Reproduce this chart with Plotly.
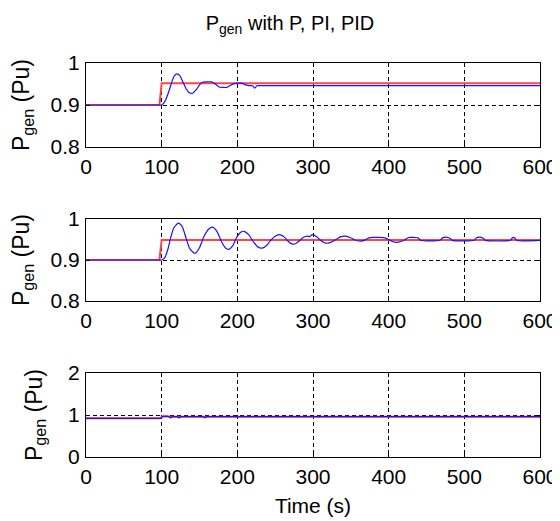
import plotly.graph_objects as go
from plotly.subplots import make_subplots

# ---------------- data ----------------
# Controller P
p_ref_t = [0, 97, 100, 600]
p_ref_v = [0.9, 0.9, 0.952, 0.952]
p_gen_t = [0, 96, 100, 103, 106, 110, 114, 117, 120, 124, 128, 132, 136, 141, 146, 150,
           154, 158, 166, 171, 176, 180, 186, 191, 196, 200, 206, 211, 216, 220, 223, 226,
           232, 600]
p_gen_v = [0.9, 0.9, 0.9, 0.905, 0.915, 0.935, 0.958, 0.970, 0.974, 0.970, 0.955, 0.940,
           0.930, 0.928, 0.937, 0.948, 0.954, 0.955, 0.955, 0.950, 0.943, 0.942, 0.942,
           0.947, 0.951, 0.952, 0.952, 0.948, 0.946, 0.946, 0.940, 0.946, 0.946, 0.946]

# Controller PI
pi_ref_t = [0, 97, 100, 600]
pi_ref_v = [0.9, 0.9, 0.949, 0.949]
pi_gen_t = [0, 96, 100, 104, 108, 112, 116, 122, 127, 132, 137, 144, 150, 156, 162, 167,
            173, 179, 184, 189, 194, 199, 204, 209, 215, 221, 227, 233, 239, 244, 250, 255,
            261, 266, 271, 276, 281, 287, 293, 296, 299, 304, 310, 315, 320, 326, 332, 337,
            343, 349, 354, 359, 364, 369, 374, 380, 388, 395, 400, 405, 411, 416, 422, 426,
            434, 439, 442, 468, 471, 476, 481, 484, 513, 516, 520, 525, 528, 561, 563, 565,
            567, 569, 600]
pi_gen_v = [0.9, 0.9, 0.9, 0.905, 0.925, 0.955, 0.978, 0.990, 0.982, 0.955, 0.928, 0.916,
            0.930, 0.958, 0.975, 0.980, 0.970, 0.945, 0.930, 0.926, 0.935, 0.955, 0.967,
            0.970, 0.962, 0.945, 0.932, 0.929, 0.936, 0.948, 0.958, 0.962, 0.958, 0.948,
            0.940, 0.939, 0.945, 0.955, 0.958, 0.957, 0.962, 0.958, 0.948, 0.942, 0.941,
            0.945, 0.952, 0.957, 0.958, 0.955, 0.950, 0.947, 0.946, 0.949, 0.954, 0.955,
            0.955, 0.954, 0.950, 0.945, 0.943, 0.945, 0.950, 0.955, 0.955, 0.954, 0.948,
            0.948, 0.954, 0.956, 0.953, 0.948, 0.948, 0.954, 0.956, 0.953, 0.948, 0.948,
            0.953, 0.955, 0.953, 0.948, 0.948]

# Controller PID
pid_ref_t = [0, 98, 100, 103, 108, 110, 600]
pid_ref_v = [0.92, 0.92, 0.96, 0.975, 0.975, 0.96, 0.96]
pid_gen_t = [0, 99, 101, 106, 110, 112, 114, 121, 123, 125, 155, 157, 159, 600]
pid_gen_v = [0.92, 0.92, 0.96, 0.96, 0.96, 0.93, 0.96, 0.96, 0.93, 0.96, 0.96,
             0.935, 0.96, 0.96]

x_ticks = [0, 100, 200, 300, 400, 500, 600]
y_ticks_top = [0.8, 0.9, 1.0]
y_tick_text_top = ["0.8", "0.9", "1"]
y_ticks_bottom = [0, 1, 2]

# ---------------- figure ----------------
RED = "rgb(255,70,70)"
BLUE = "rgb(20,20,255)"
FONT = "Liberation Sans, Arial, sans-serif"

fig = make_subplots(rows=3, cols=1)

series = [
    (p_ref_t, p_ref_v, p_gen_t, p_gen_v, "spline"),
    (pi_ref_t, pi_ref_v, pi_gen_t, pi_gen_v, "spline"),
    (pid_ref_t, pid_ref_v, pid_gen_t, pid_gen_v, "linear"),
]
for i, (rt, rv, gt, gv, shp) in enumerate(series, start=1):
    fig.add_trace(go.Scatter(x=rt, y=rv, mode="lines",
                             line=dict(color=RED, width=2),
                             showlegend=False, hoverinfo="skip"), row=i, col=1)
    ln = dict(color=BLUE, width=1.2, shape=shp)
    if shp == "spline":
        ln["smoothing"] = 0.6
    fig.add_trace(go.Scatter(x=gt, y=gv, mode="lines", line=ln,
                             showlegend=False), row=i, col=1)

# page body adds an 8px offset; figure is sized/placed to compensate
OFF = 8
H = 521 - OFF
W = 560 - OFF
ML, MR, MT, MB = 86 - OFF, 20, 63 - OFF, 64
plot_h = H - MT - MB


def dom(top_px, bot_px):
    top_px -= OFF
    bot_px -= OFF
    return [(H - MB - bot_px) / plot_h, (H - MB - top_px) / plot_h]


domains = [dom(63, 147), dom(219, 301), dom(373, 457)]

axis_common = dict(
    showline=True, linecolor="black", linewidth=1, mirror="ticks",
    ticks="inside", ticklen=4, tickcolor="black",
    showgrid=True, gridcolor="black", gridwidth=1, griddash="4px,3px",
    zeroline=False, automargin=False,
    tickfont=dict(family=FONT, size=21, color="black"),
)

ytitle = "P<sub>gen</sub> (Pu)"
for i in range(1, 4):
    xa = "xaxis" if i == 1 else f"xaxis{i}"
    ya = "yaxis" if i == 1 else f"yaxis{i}"
    fig.layout[xa].update(range=[0, 600], tickvals=x_ticks, ticklabelstandoff=1,
                          **axis_common)
    yd = dict(domain=domains[i - 1], ticklabelstandoff=1,
              title=dict(text=ytitle, font=dict(family=FONT, size=23, color="black"),
                         standoff=19),
              **axis_common)
    if i < 3:
        yd.update(range=[0.8, 1.0], tickvals=y_ticks_top, ticktext=y_tick_text_top)
    else:
        yd.update(range=[0, 2], tickvals=y_ticks_bottom)
    fig.layout[ya].update(**yd)

fig.layout.xaxis3.title = dict(text="Time (s)", font=dict(family=FONT, size=21, color="black"),
                               standoff=11)

fig.update_layout(
    width=W, height=H,
    margin=dict(l=ML, r=MR, t=MT, b=MB),
    paper_bgcolor="white", plot_bgcolor="white",
    font=dict(family=FONT, size=20, color="black"),
    title=dict(text="P<sub>gen</sub> with P, PI, PID", x=282 / W, xanchor="center",
               xref="container", yref="container", y=(H - 8) / H, yanchor="top",
               font=dict(family=FONT, size=20, color="black")),
)

fig.write_html("out.html")
